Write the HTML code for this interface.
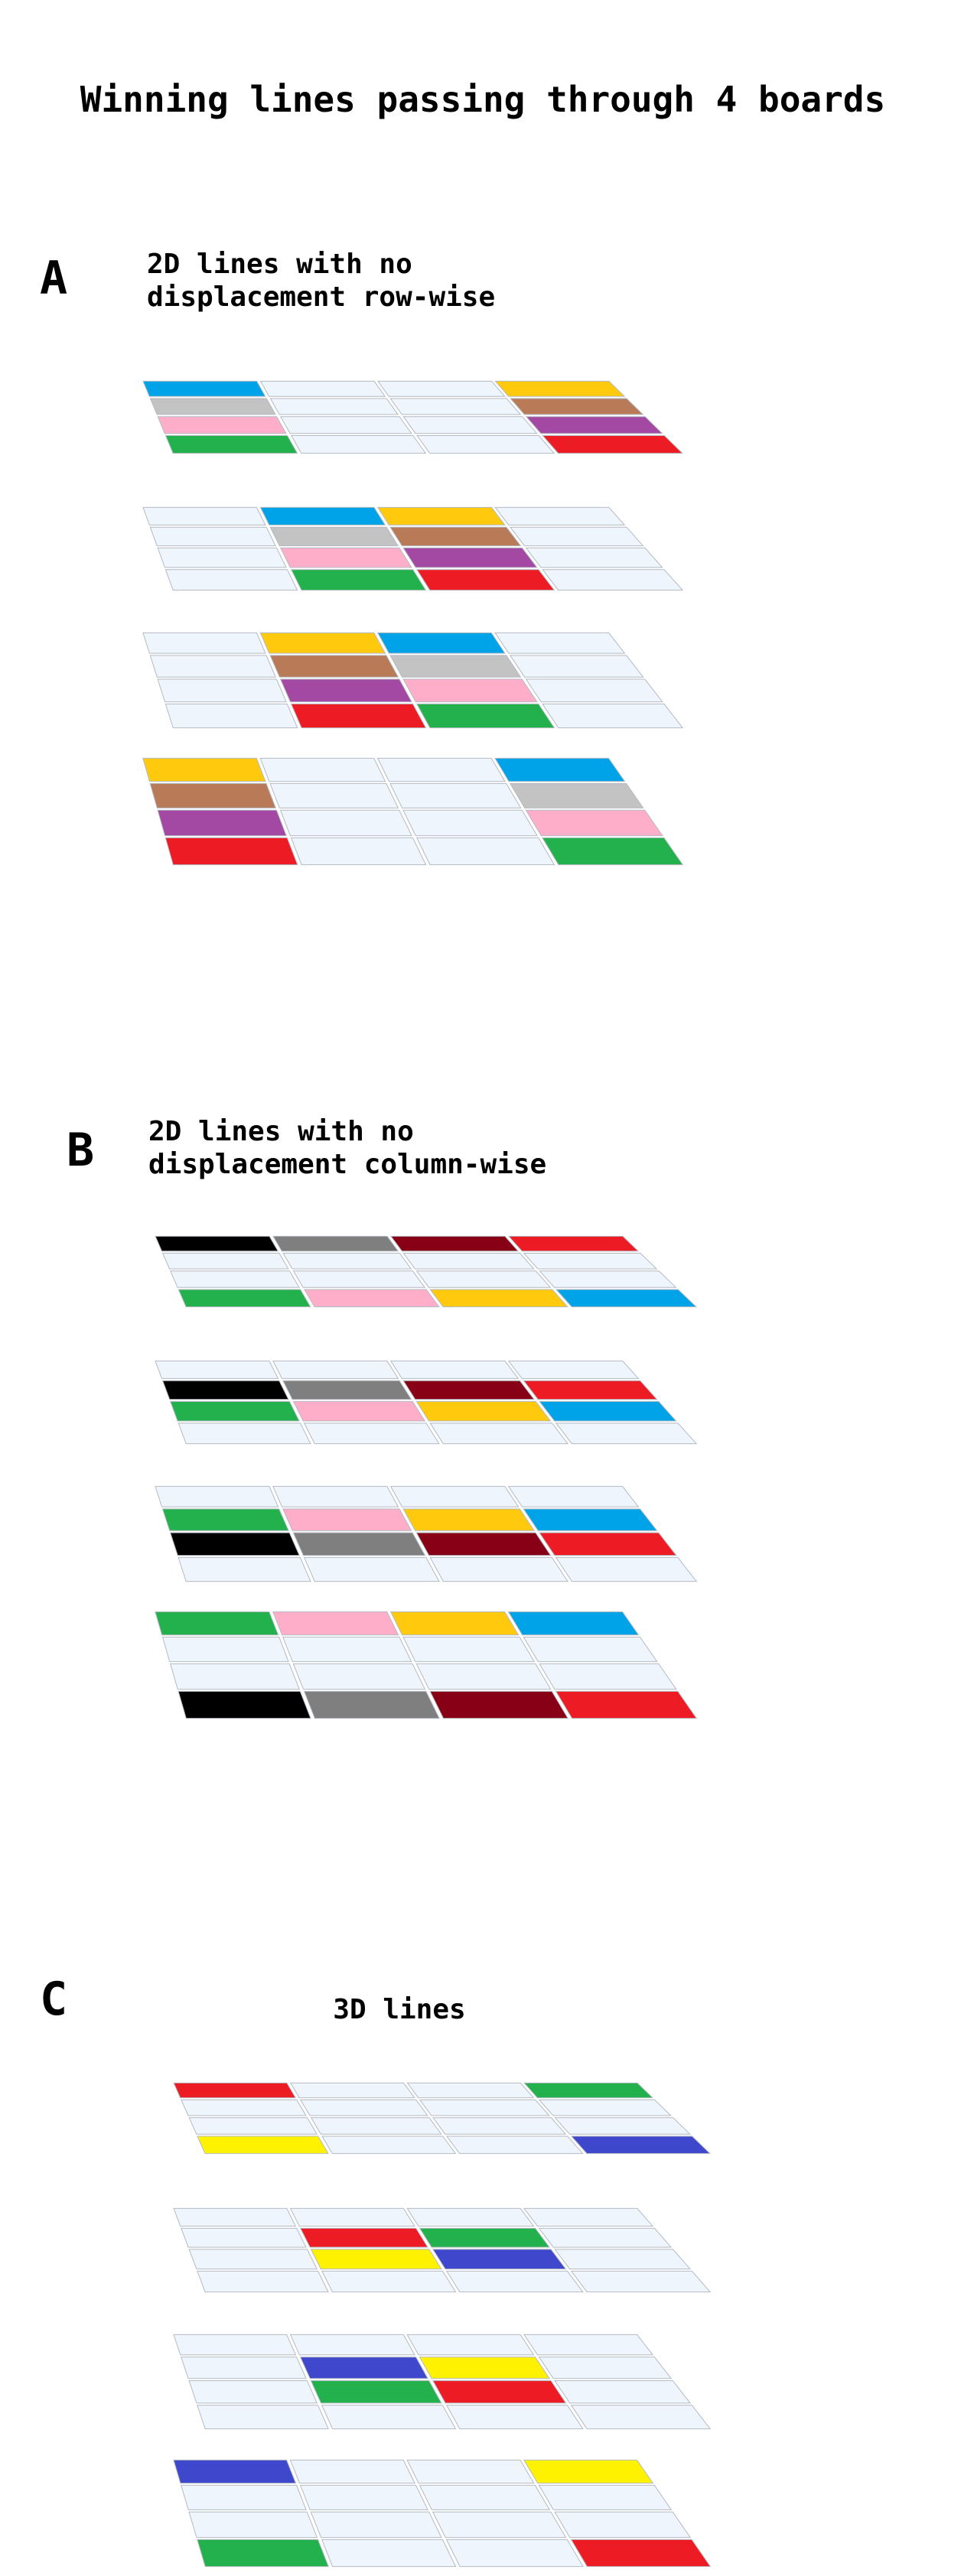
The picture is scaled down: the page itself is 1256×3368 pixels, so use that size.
<!DOCTYPE html>
<html><head><meta charset="utf-8">
<style>
html,body{margin:0;padding:0;background:#fff;}
svg{display:block;}
text{font-family:"DejaVu Sans Mono","Liberation Mono",monospace;font-weight:bold;fill:#000;}
</style></head>
<body>
<svg id="fig" width="1256" height="3368" viewBox="0 0 1256 3368" xmlns="http://www.w3.org/2000/svg">
<rect width="1256" height="3368" fill="#fff"/>
<text x="631" y="146" font-size="46" text-anchor="middle">Winning lines passing through 4 boards</text>
<text x="52" y="384" font-size="60">A</text>
<text x="192" y="357" font-size="36">2D lines with no</text>
<text x="192" y="400" font-size="36">displacement row-wise</text>
<text x="87" y="1524" font-size="60">B</text>
<text x="194" y="1491" font-size="36">2D lines with no</text>
<text x="194" y="1534" font-size="36">displacement column-wise</text>
<text x="52" y="2634" font-size="60">C</text>
<text x="522" y="2639" font-size="36" text-anchor="middle">3D lines</text>
<g id="boards"></g>
</svg>
<script>
// Board outlines per section: [topLeftX, topRightX, bottomLeftX, bottomRightX]
const sectionA = [184, 797, 224, 896];
const sectionB = [200, 815, 241, 914];
const sectionC = [224, 834, 266, 932];
// Board vertical extents [top, bottom]
const boardsA = [[497, 594], [662, 773], [826, 953], [990, 1132]];
const boardsB = [[1615, 1710], [1778, 1889], [1942, 2069], [2106, 2248]];
const boardsC = [[2722, 2817], [2886, 2998], [3051, 3177], [3215, 3357]];
// Highlighted cells: [row, col, colour]
const cellsA = [
  [[0,0,'#00a2e8'],[1,0,'#c3c3c3'],[2,0,'#ffaec9'],[3,0,'#22b14c'],[0,3,'#ffc90e'],[1,3,'#b97a57'],[2,3,'#a349a4'],[3,3,'#ed1c24']],
  [[0,1,'#00a2e8'],[1,1,'#c3c3c3'],[2,1,'#ffaec9'],[3,1,'#22b14c'],[0,2,'#ffc90e'],[1,2,'#b97a57'],[2,2,'#a349a4'],[3,2,'#ed1c24']],
  [[0,1,'#ffc90e'],[1,1,'#b97a57'],[2,1,'#a349a4'],[3,1,'#ed1c24'],[0,2,'#00a2e8'],[1,2,'#c3c3c3'],[2,2,'#ffaec9'],[3,2,'#22b14c']],
  [[0,0,'#ffc90e'],[1,0,'#b97a57'],[2,0,'#a349a4'],[3,0,'#ed1c24'],[0,3,'#00a2e8'],[1,3,'#c3c3c3'],[2,3,'#ffaec9'],[3,3,'#22b14c']]
];
const cellsB = [
  [[0,0,'#000000'],[0,1,'#7f7f7f'],[0,2,'#880015'],[0,3,'#ed1c24'],[3,0,'#22b14c'],[3,1,'#ffaec9'],[3,2,'#ffc90e'],[3,3,'#00a2e8']],
  [[1,0,'#000000'],[1,1,'#7f7f7f'],[1,2,'#880015'],[1,3,'#ed1c24'],[2,0,'#22b14c'],[2,1,'#ffaec9'],[2,2,'#ffc90e'],[2,3,'#00a2e8']],
  [[2,0,'#000000'],[2,1,'#7f7f7f'],[2,2,'#880015'],[2,3,'#ed1c24'],[1,0,'#22b14c'],[1,1,'#ffaec9'],[1,2,'#ffc90e'],[1,3,'#00a2e8']],
  [[3,0,'#000000'],[3,1,'#7f7f7f'],[3,2,'#880015'],[3,3,'#ed1c24'],[0,0,'#22b14c'],[0,1,'#ffaec9'],[0,2,'#ffc90e'],[0,3,'#00a2e8']]
];
const cellsC = [
  [[0,0,'#ed1c24'],[0,3,'#22b14c'],[3,0,'#fff200'],[3,3,'#3f48cc']],
  [[1,1,'#ed1c24'],[1,2,'#22b14c'],[2,1,'#fff200'],[2,2,'#3f48cc']],
  [[1,1,'#3f48cc'],[1,2,'#fff200'],[2,1,'#22b14c'],[2,2,'#ed1c24']],
  [[0,0,'#3f48cc'],[0,3,'#fff200'],[3,0,'#22b14c'],[3,3,'#ed1c24']]
];
const rowWeights = [0.93, 0.98, 1.02, 1.07];

const NS = 'http://www.w3.org/2000/svg';
const root = document.getElementById('boards');
const wsum = rowWeights.reduce((a,b)=>a+b,0);
const rowFr = [0]; rowWeights.forEach(w=>rowFr.push(rowFr[rowFr.length-1]+w/wsum));

function pt(outline, top, bot, u, v){
  const xl = outline[0] + (outline[2]-outline[0])*v;
  const xr = outline[1] + (outline[3]-outline[1])*v;
  return [xl + (xr-xl)*u, top + (bot-top)*v];
}
function drawBoard(section, outline, ext, cells, bi){
  const g = document.createElementNS(NS,'g');
  
  
  root.appendChild(g);
  const [top, bot] = ext;
  const h = bot - top;
  const gu = 0.004, gv = 1.4 / h;
  for (let r=0;r<4;r++){
    for (let c=0;c<4;c++){
      let fill = '#eef5fd';
      cells.forEach(cell=>{ if(cell[0]===r && cell[1]===c) fill = cell[2]; });
      const v0 = rowFr[r]+gv, v1 = rowFr[r+1]-gv;
      const u0 = c/4+gu, u1 = (c+1)/4-gu;
      const p = [pt(outline,top,bot,u0,v0),pt(outline,top,bot,u1,v0),pt(outline,top,bot,u1,v1),pt(outline,top,bot,u0,v1)];
      const poly = document.createElementNS(NS,'polygon');
      poly.setAttribute('points', p.map(q=>q[0].toFixed(1)+','+q[1].toFixed(1)).join(' '));
      poly.setAttribute('fill', fill);
      poly.setAttribute('stroke', '#b4bac2');
      poly.setAttribute('stroke-width', '1');
      
      
      g.appendChild(poly);
    }
  }
}
boardsA.forEach((e,i)=>drawBoard('a', sectionA, e, cellsA[i], i));
boardsB.forEach((e,i)=>drawBoard('b', sectionB, e, cellsB[i], i));
boardsC.forEach((e,i)=>drawBoard('c', sectionC, e, cellsC[i], i));
</script>
</body></html>
